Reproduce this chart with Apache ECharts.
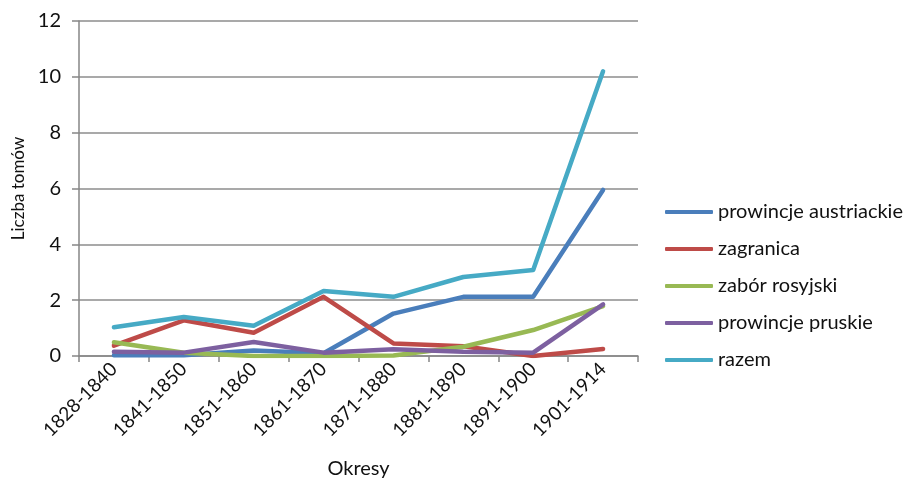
<!DOCTYPE html>
<html>
<head>
<meta charset="utf-8">
<script src="https://cdn.jsdelivr.net/npm/echarts@6/dist/echarts.min.js"></script>
<style>
  html, body { margin: 0; padding: 0; background: #fff; }
  #chart { width: 907px; height: 478px; }
</style>
</head>
<body>
<div id="chart"></div>
<script>
// Okresy (periods)
const periods = ['1828-1840', '1841-1850', '1851-1860', '1861-1870', '1871-1880', '1881-1890', '1891-1900', '1901-1914'];

// Liczba tomów per region
const austriackie = [0.03, 0.03, 0.2, 0.1, 1.52, 2.12, 2.12, 5.95];
const zagranica   = [0.37, 1.28, 0.83, 2.12, 0.45, 0.35, 0.0, 0.25];
const rosyjski    = [0.49, 0.12, 0.0, 0.0, 0.02, 0.33, 0.93, 1.79];
const pruskie     = [0.15, 0.12, 0.5, 0.12, 0.24, 0.15, 0.12, 1.85];
const razem       = [1.03, 1.4, 1.08, 2.33, 2.12, 2.83, 3.08, 10.2];

const yTicks = [0, 2, 4, 6, 8, 10, 12];

const seriesDefs = [
  { name: 'prowincje austriackie', data: austriackie, color: '#4A7EBB' },
  { name: 'zagranica',             data: zagranica,   color: '#BE4B48' },
  { name: 'zabór rosyjski',        data: rosyjski,    color: '#98B954' },
  { name: 'prowincje pruskie',     data: pruskie,     color: '#7D60A0' },
  { name: 'razem',                 data: razem,       color: '#46AAC5' }
];

const font = 'Lato, "Open Sans", sans-serif';
const chart = echarts.init(document.getElementById('chart'), null, { renderer: 'canvas' });

chart.setOption({
  animation: false,
  textStyle: { fontFamily: font },
  grid: { left: 79, right: 269, top: 21, bottom: 122, containLabel: false, outerBoundsMode: 'none' },
  legend: {
    orient: 'vertical',
    left: 660,
    top: 197,
    itemWidth: 48,
    itemHeight: 4,
    itemGap: 17,
    icon: 'roundRect',
    textStyle: { fontSize: 20, color: '#111', fontFamily: font },
    data: seriesDefs.map(s => ({ name: s.name, itemStyle: { color: s.color } }))
  },
  xAxis: {
    type: 'category',
    data: periods,
    boundaryGap: true,
    name: 'Okresy',
    nameLocation: 'middle',
    nameGap: 103,
    nameTextStyle: { fontSize: 20, color: '#111', fontFamily: font },
    axisLine: { lineStyle: { color: '#868686', width: 1.5 } },
    axisTick: { show: true, alignWithLabel: false, length: 6, lineStyle: { color: '#868686', width: 1.5 } },
    axisLabel: { rotate: 45, fontSize: 19, color: '#111', margin: 10, fontFamily: font }
  },
  yAxis: {
    type: 'value',
    min: yTicks[0],
    max: yTicks[yTicks.length - 1],
    interval: 2,
    name: 'Liczba tomów',
    nameLocation: 'middle',
    nameGap: 45,
    nameRotate: 90,
    nameTextStyle: { fontSize: 17, color: '#111', fontFamily: font },
    axisLine: { show: true, lineStyle: { color: '#868686', width: 1.5 } },
    axisTick: { show: true, length: 7, lineStyle: { color: '#868686', width: 1.5 } },
    axisLabel: { fontSize: 20, color: '#111', margin: 18, fontFamily: font },
    splitLine: { lineStyle: { color: '#8c8c8c', width: 1.5 } }
  },
  series: seriesDefs.map(s => ({
    name: s.name,
    type: 'line',
    data: s.data,
    symbol: 'none',
    lineStyle: { color: s.color, width: 4.5, cap: 'round', join: 'round' },
    itemStyle: { color: s.color }
  }))
});
</script>
</body>
</html>
